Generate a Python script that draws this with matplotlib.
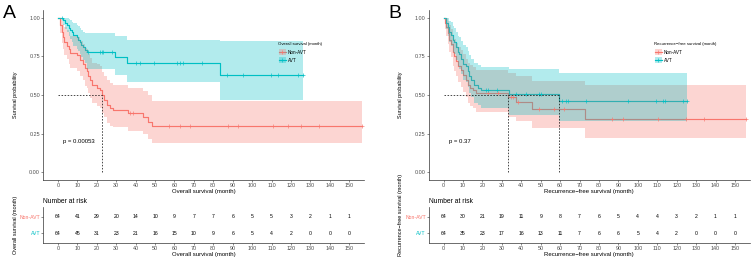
import numpy as np
import matplotlib
matplotlib.use('Agg')
import matplotlib.pyplot as plt
from matplotlib.lines import Line2D
from matplotlib.patches import Rectangle

plt.rcParams['font.family'] = ['Liberation Sans', 'DejaVu Sans']

RED = '#F8766D'
TEAL = '#00BFC4'
groups = ['Non-AVT', 'AVT']
time_ticks = np.arange(0, 151, 10)

# ---------------- Overall survival ----------------
os_non_t = [0, 1.0, 1.9, 2.5, 3.1, 4.5, 5.5, 6.2, 9.6, 11.3, 13.0, 13.9, 14.8, 15.6, 16.5, 17.4,
            20.0, 21.6, 22.5, 23.7, 25.1, 26.8, 28.5, 36.3, 44.0, 46.6, 48.3]
os_non_s = [1.0, .953, .906, .875, .844, .82, .797, .773, .758, .727, .703, .672, .656, .625, .594, .563,
            .547, .531, .50, .469, .436, .414, .403, .382, .36, .327, .30]
os_non_lo = [1.0, .904, .838, .798, .760, .73, .70, .675, .655, .62, .595, .56, .545, .51, .48, .45,
             .43, .415, .385, .355, .32, .30, .29, .27, .25, .215, .19]
os_non_hi = [1.0, 1.0, .98, .96, .94, .92, .905, .885, .875, .85, .83, .805, .795, .765, .74, .71,
             .70, .685, .65, .62, .595, .575, .565, .545, .525, .50, .463]
os_non_cens = [37.0, 38.8, 57.3, 62.9, 68.0, 87.5, 92.9, 110.7, 118.7, 125.3, 134.5, 156.5]

os_avt_t = [0, 2.6, 3.4, 4.5, 5.5, 6.2, 7.0, 7.9, 9.6, 10.5, 11.3, 12.1, 13.0, 14.0, 14.8, 29.3, 35.4, 83.7]
os_avt_s = [1.0, .984, .968, .952, .936, .92, .905, .889, .873, .857, .841, .825, .809, .793, .777, .745, .71, .63]
os_avt_lo = [1.0, .955, .93, .905, .88, .86, .84, .82, .80, .785, .765, .745, .725, .705, .67, .63, .586, .468]
os_avt_hi = [1.0, 1.0, 1.0, 1.0, .995, .985, .975, .965, .955, .945, .935, .92, .91, .90, .90, .88, .855, .85]
os_avt_cens = [1.9, 15.6, 21.6, 22.5, 23.4, 27.6, 40.4, 42.1, 49.5, 61.2, 62.9, 64.6, 74.0,
               87.0, 95.2, 109.8, 113.2, 123.6, 126.1]

os_risk_non = [64, 41, 29, 20, 14, 10, 9, 7, 7, 6, 5, 5, 3, 2, 1, 1]
os_risk_avt = [64, 45, 31, 23, 21, 16, 15, 10, 9, 6, 5, 4, 2, 0, 0, 0]
os_pval = 'p = 0.00053'

# ---------------- Recurrence-free survival ----------------
rfs_non_t = [0, 0.6, 1.2, 2.0, 2.9, 3.7, 4.6, 5.5, 6.3, 7.2, 8.9, 9.8, 11.5, 12.3, 13.5, 14.9, 16.6,
             32.9, 37.2, 45.4, 72.7]
rfs_non_s = [1.0, .969, .938, .90, .859, .828, .781, .75, .719, .688, .66, .63, .597, .565, .548, .532, .51,
             .485, .457, .41, .345]
rfs_non_lo = [1.0, .927, .88, .83, .78, .745, .69, .655, .62, .585, .555, .52, .485, .45, .43, .415, .39,
              .36, .33, .285, .22]
rfs_non_hi = [1.0, 1.0, .999, .98, .95, .925, .885, .86, .835, .81, .79, .765, .735, .71, .695, .68, .66,
              .64, .62, .59, .565]
rfs_non_cens = [23.0, 28.0, 34.6, 35.8, 38.5, 49.2, 56.9, 61.9, 86.9, 92.4, 110.4, 125.0, 134.0, 155.9]

rfs_avt_t = [0, 1.2, 2.0, 2.9, 3.7, 4.6, 5.5, 6.3, 7.2, 8.0, 8.9, 9.8, 11.5, 12.3, 13.2, 14.0, 15.8,
             17.5, 19.2, 33.8, 59.3]
rfs_avt_s = [1.0, .969, .938, .906, .891, .859, .844, .812, .781, .766, .734, .703, .688, .656, .625, .594, .563,
             .547, .53, .505, .46]
rfs_avt_lo = [1.0, .927, .88, .84, .82, .78, .765, .725, .69, .67, .635, .60, .585, .55, .515, .485, .45,
              .435, .415, .37, .33]
rfs_avt_hi = [1.0, 1.0, .999, .98, .97, .945, .935, .91, .885, .875, .85, .825, .81, .785, .76, .735, .71,
              .695, .68, .666, .64]
rfs_avt_cens = [21.8, 23.0, 27.5, 37.2, 42.3, 49.2, 50.0, 60.7, 62.9, 64.1, 73.2, 95.0, 109.6,
                113.0, 113.8, 123.3, 125.5]

rfs_risk_non = [64, 30, 21, 19, 11, 9, 8, 7, 6, 5, 4, 4, 3, 2, 1, 1]
rfs_risk_avt = [64, 35, 23, 17, 16, 13, 11, 7, 6, 6, 5, 4, 2, 0, 0, 0]
rfs_pval = 'p = 0.37'

W, H = 752, 260
fig = plt.figure(figsize=(W / 100, H / 100), dpi=100)

XLIM = (-7.7, 157.6)
TXT = '#4D4D4D'
AX = '#333333'


def px_axes(x0, y0, x1, y1):
    return fig.add_axes([x0 / W, 1 - y1 / H, (x1 - x0) / W, (y1 - y0) / H])


def style(ax):
    for s in ['top', 'right']:
        ax.spines[s].set_visible(False)
    for s in ['left', 'bottom']:
        ax.spines[s].set_linewidth(0.5)
        ax.spines[s].set_color(AX)
    ax.tick_params(length=1.3, width=0.4, pad=0.8, labelsize=3.9, colors=AX, labelcolor=TXT)


def draw_curve(ax, t, s, lo, hi, cens, color):
    end = max(cens[-1], t[-1])
    x = list(t) + [end]
    y = list(s) + [s[-1]]
    ylo = list(lo) + [lo[-1]]
    yhi = list(hi) + [hi[-1]]
    # lines first, then ribbons over them, then censor marks (ggsurvplot order)
    ax.step(x, y, where='post', color=color, lw=0.85, zorder=2)
    ax.fill_between(x, ylo, yhi, step='post', color=color, alpha=0.3, lw=0, zorder=3)
    tt = np.asarray(t)
    idx = np.searchsorted(tt, cens, side='right') - 1
    cy = np.asarray(s)[idx]
    ax.plot(cens, cy, ls='none', marker='+', ms=2.6, mew=0.45, color=color, zorder=4)


def median(t, s):
    for ti, si in zip(t, s):
        if si <= 0.5:
            return ti
    return None


def panel(x0, letter, curves, pval, legend_title, risk, xlab, leg_x, rt_label_y):
    ax = px_axes(x0, 10, x0 + 321, 180)
    style(ax)
    for (t, s, lo, hi, cens, col) in curves:
        draw_curve(ax, t, s, lo, hi, cens, col)
    meds = [m for m in (median(c[0], c[1]) for c in curves) if m is not None]
    if meds:
        ax.plot([0, max(meds)], [0.5, 0.5], color='black', lw=0.5, ls=(0, (2.2, 2.2)), zorder=5)
        for m in meds:
            ax.plot([m, m], [0, 0.5], color='black', lw=0.5, ls=(0, (2.2, 2.2)), zorder=5)
    ax.set_xlim(*XLIM)
    ax.set_ylim(-0.05, 1.05)
    ax.set_xticks(time_ticks)
    ax.set_yticks([0, 0.25, 0.5, 0.75, 1.0])
    ax.set_yticklabels(['0.00', '0.25', '0.50', '0.75', '1.00'])
    ax.set_xlabel(xlab, fontsize=4.3, color='black', labelpad=0.6)
    ax.text(2.6, 0.198, pval, fontsize=4.3, ha='left', va='center', color='black')
    fig.text((x0 - 28) / W, 1 - 95 / H, 'Survival probability', rotation=90,
             fontsize=4.0, ha='center', va='center', color='black')
    fig.text((x0 - 40) / W, 1 - 5.5 / H, letter, fontsize=14, ha='left', va='top', color='black')

    # legend (manual, ggplot-like)
    def fx(px):
        return (px - x0) / 321

    def fy(py):
        return (180 - py) / 170
    ax.text(fx(leg_x), fy(44), legend_title, transform=ax.transAxes, fontsize=3.1,
            ha='left', va='center', color='black')
    for i, (lab, col) in enumerate(zip(groups, [RED, TEAL])):
        yc = 52 + 8 * i
        ax.add_line(Line2D([fx(leg_x + 0.3), fx(leg_x + 7.3)], [fy(yc), fy(yc)],
                           transform=ax.transAxes, color=col, lw=0.85, zorder=2))
        ax.add_patch(Rectangle((fx(leg_x + 0.3), fy(yc + 3.2)), fx(leg_x + 7.3) - fx(leg_x + 0.3),
                               fy(yc - 3.2) - fy(yc + 3.2), transform=ax.transAxes,
                               facecolor=col, alpha=0.3, lw=0, zorder=3))
        ax.plot([fx(leg_x + 3.8)], [fy(yc)], transform=ax.transAxes, marker='+', ms=2.6,
                mew=0.45, color=col, zorder=4)
        ax.text(fx(leg_x + 9.3), fy(yc), lab, transform=ax.transAxes, fontsize=3.3,
                ha='left', va='center', color='black')

    # risk table
    rt = px_axes(x0, 206.7, x0 + 321, 243.3)
    style(rt)
    rt.set_xlim(*XLIM)
    rt.set_ylim(0.4, 2.6)
    rt.set_xticks(time_ticks)
    rt.set_yticks([2, 1])
    rt.set_yticklabels(groups)
    for lbl, col in zip(rt.get_yticklabels(), [RED, TEAL]):
        lbl.set_color(col)
        lbl.set_fontsize(3.7)
    for xv, n in zip(time_ticks, risk[0]):
        rt.text(xv, 2, str(n), fontsize=3.7, ha='center', va='center', color='black')
    for xv, n in zip(time_ticks, risk[1]):
        rt.text(xv, 1, str(n), fontsize=3.7, ha='center', va='center', color='black')
    rt.set_xlabel(xlab, fontsize=4.3, color='black', labelpad=0.3)
    rt.text(0, 1.137, 'Number at risk', transform=rt.transAxes, fontsize=4.9,
            ha='left', va='center', color='black')
    fig.text((x0 - 28) / W, 1 - rt_label_y / H, xlab, rotation=90,
             fontsize=4.0, ha='center', va='center', color='black')
    return ax, rt


panel(43, 'A',
      [(os_non_t, os_non_s, os_non_lo, os_non_hi, os_non_cens, RED),
       (os_avt_t, os_avt_s, os_avt_lo, os_avt_hi, os_avt_cens, TEAL)],
      os_pval, 'Overall survival (month)', (os_risk_non, os_risk_avt),
      'Overall survival (month)', 278.3, 225)

panel(428.7, 'B',
      [(rfs_non_t, rfs_non_s, rfs_non_lo, rfs_non_hi, rfs_non_cens, RED),
       (rfs_avt_t, rfs_avt_s, rfs_avt_lo, rfs_avt_hi, rfs_avt_cens, TEAL)],
      rfs_pval, 'Recurrence\u2212free survival (month)', (rfs_risk_non, rfs_risk_avt),
      'Recurrence\u2212free survival (month)', 654.3, 215)

fig.savefig('out.png', dpi=100)
